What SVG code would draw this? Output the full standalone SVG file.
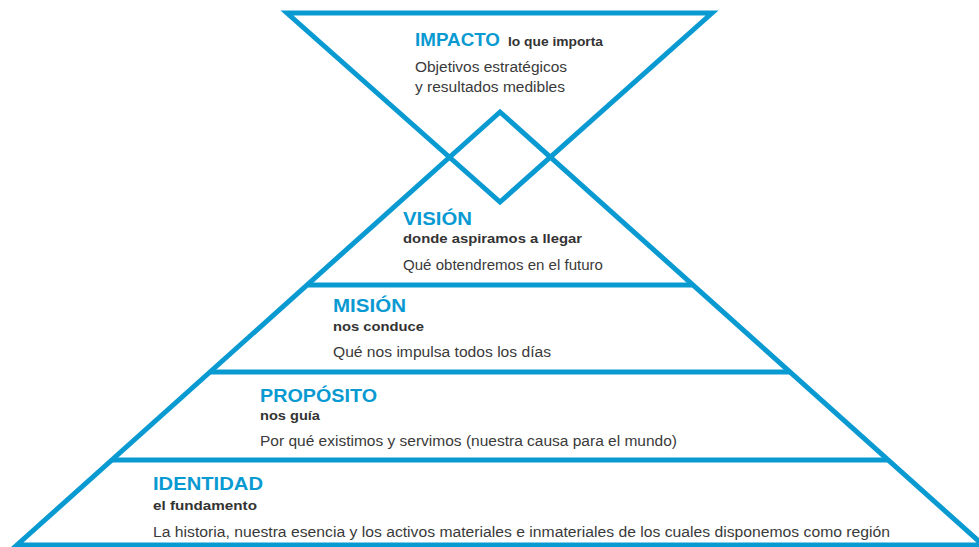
<svg xmlns="http://www.w3.org/2000/svg" width="979" height="547" viewBox="0 0 979 547">
<style>
.ln{fill:none;stroke:#0a9ad2;stroke-width:5;stroke-linejoin:miter;stroke-miterlimit:10}
.h{font-family:"Liberation Sans",Arial,sans-serif;font-weight:bold;font-size:18.5px;fill:#0a9ad2}
.s{font-family:"Liberation Sans",Arial,sans-serif;font-weight:bold;font-size:13.5px;fill:#333}
.b{font-family:"Liberation Sans",Arial,sans-serif;font-size:14px;fill:#3a3a3a}
</style>
<rect width="979" height="547" fill="#fff"/>
<g id="shapes">
<polygon class="ln" points="287,13 712,13 500,202"/>
<polygon class="ln" points="500,112 983,545 17,545"/>
<line class="ln" x1="308" y1="285" x2="692" y2="285"/>
<line class="ln" x1="210" y1="372" x2="790" y2="372"/>
<line class="ln" x1="112" y1="460" x2="888" y2="460"/>
</g>
<g id="impacto">
<text class="h" x="415" y="46" textLength="85" lengthAdjust="spacingAndGlyphs">IMPACTO</text>
<text class="s" x="508" y="46" textLength="95" lengthAdjust="spacingAndGlyphs">lo que importa</text>
<text class="b" x="415" y="72" textLength="152" lengthAdjust="spacingAndGlyphs">Objetivos estratégicos</text>
<text class="b" x="415" y="92" textLength="150" lengthAdjust="spacingAndGlyphs">y resultados medibles</text>
</g>
<g id="vision">
<text class="h" x="403" y="225" textLength="69" lengthAdjust="spacingAndGlyphs">VISIÓN</text>
<text class="s" x="403" y="243" textLength="179" lengthAdjust="spacingAndGlyphs">donde aspiramos a llegar</text>
<text class="b" x="403" y="270" textLength="200" lengthAdjust="spacingAndGlyphs">Qué obtendremos en el futuro</text>
</g>
<g id="mision">
<text class="h" x="333" y="312" textLength="73" lengthAdjust="spacingAndGlyphs">MISIÓN</text>
<text class="s" x="333" y="331" textLength="91" lengthAdjust="spacingAndGlyphs">nos conduce</text>
<text class="b" x="333" y="357" textLength="218" lengthAdjust="spacingAndGlyphs">Qué nos impulsa todos los días</text>
</g>
<g id="proposito">
<text class="h" x="260" y="402" textLength="117" lengthAdjust="spacingAndGlyphs">PROPÓSITO</text>
<text class="s" x="260" y="420" textLength="60" lengthAdjust="spacingAndGlyphs">nos guía</text>
<text class="b" x="260" y="446" textLength="417" lengthAdjust="spacingAndGlyphs">Por qué existimos y servimos (nuestra causa para el mundo)</text>
</g>
<g id="identidad">
<text class="h" x="153" y="490" textLength="110" lengthAdjust="spacingAndGlyphs">IDENTIDAD</text>
<text class="s" x="153" y="510" textLength="104" lengthAdjust="spacingAndGlyphs">el fundamento</text>
<text class="b" x="153" y="537" textLength="737" lengthAdjust="spacingAndGlyphs">La historia, nuestra esencia y los activos materiales e inmateriales de los cuales disponemos como región</text>
</g>
</svg>
